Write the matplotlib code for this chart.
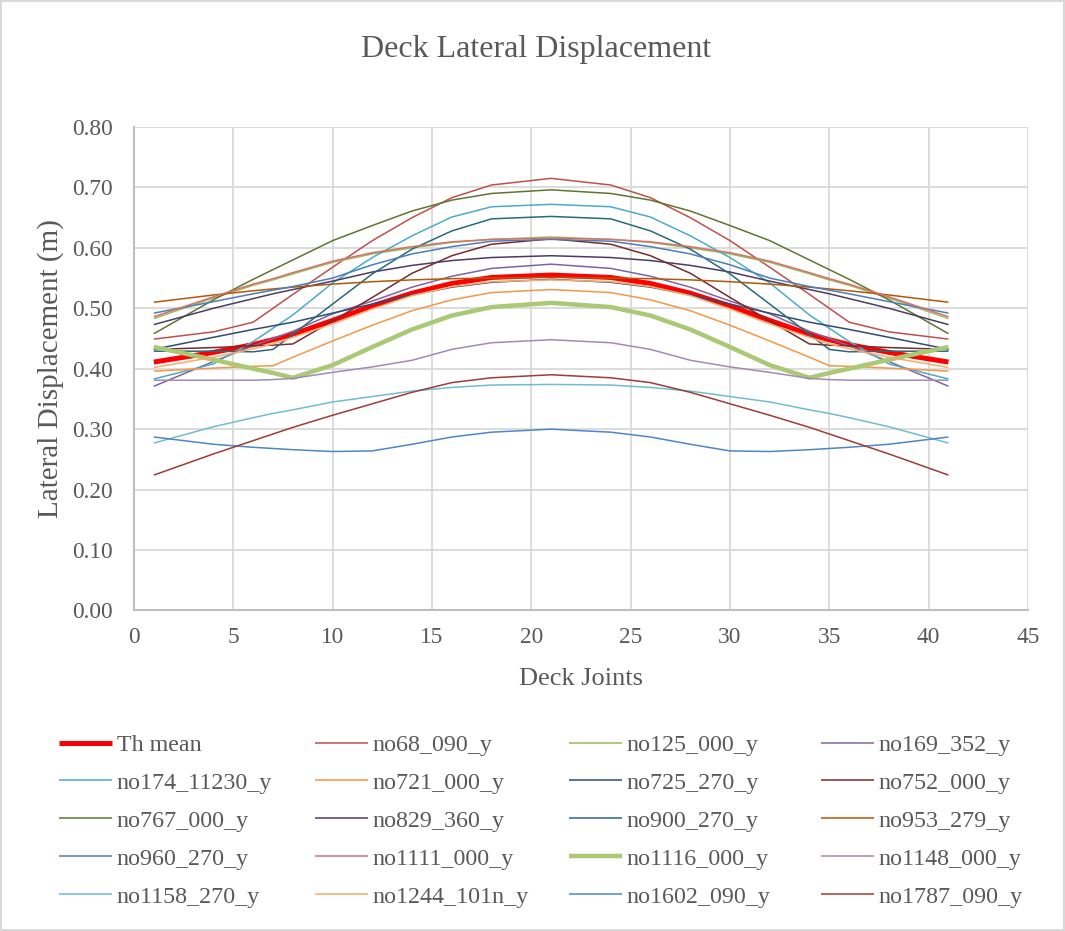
import matplotlib.pyplot as plt
from matplotlib.ticker import FormatStrFormatter

plt.rcParams['font.family'] = ['Liberation Serif', 'DejaVu Serif']

# Deck joints where the values were read
joints = [1, 4, 6, 7, 8, 10, 12, 14, 16, 18, 21, 24, 26, 28, 30, 32, 34, 35, 36, 38, 41]

th_mean = [0.411, 0.427, 0.440, 0.448, 0.457, 0.480, 0.504, 0.525, 0.541, 0.551, 0.555,
           0.551, 0.541, 0.525, 0.504, 0.480, 0.457, 0.448, 0.440, 0.427, 0.411]
no68 = [0.449, 0.461, 0.477, 0.500, 0.523, 0.568, 0.612, 0.650, 0.683, 0.704, 0.715,
        0.704, 0.683, 0.650, 0.612, 0.568, 0.523, 0.500, 0.477, 0.461, 0.449]
no125 = [0.483, 0.517, 0.538, 0.547, 0.557, 0.576, 0.590, 0.600, 0.609, 0.614, 0.618,
         0.614, 0.609, 0.600, 0.590, 0.576, 0.557, 0.547, 0.538, 0.517, 0.483]
no169 = [0.371, 0.412, 0.438, 0.450, 0.462, 0.491, 0.512, 0.535, 0.553, 0.566, 0.573,
         0.566, 0.553, 0.535, 0.512, 0.491, 0.462, 0.450, 0.438, 0.412, 0.371]
no174 = [0.383, 0.408, 0.445, 0.467, 0.489, 0.542, 0.584, 0.620, 0.651, 0.668, 0.672,
         0.668, 0.651, 0.620, 0.584, 0.542, 0.489, 0.467, 0.445, 0.408, 0.383]
no721 = [0.396, 0.401, 0.404, 0.405, 0.419, 0.446, 0.472, 0.496, 0.514, 0.526, 0.531,
         0.526, 0.514, 0.496, 0.472, 0.446, 0.419, 0.405, 0.404, 0.401, 0.396]
no725 = [0.432, 0.452, 0.465, 0.471, 0.477, 0.492, 0.507, 0.522, 0.535, 0.543, 0.548,
         0.543, 0.535, 0.522, 0.507, 0.492, 0.477, 0.471, 0.465, 0.452, 0.432]
no752 = [0.432, 0.435, 0.438, 0.439, 0.441, 0.479, 0.518, 0.558, 0.587, 0.606, 0.615,
         0.606, 0.587, 0.558, 0.518, 0.479, 0.441, 0.439, 0.438, 0.435, 0.432]
no767 = [0.458, 0.514, 0.548, 0.564, 0.580, 0.612, 0.637, 0.661, 0.679, 0.690, 0.696,
         0.690, 0.679, 0.661, 0.637, 0.612, 0.580, 0.564, 0.548, 0.514, 0.458]
no829 = [0.473, 0.500, 0.516, 0.524, 0.531, 0.545, 0.560, 0.571, 0.579, 0.584, 0.587,
         0.584, 0.579, 0.571, 0.560, 0.545, 0.531, 0.524, 0.516, 0.500, 0.473]
no900 = [0.429, 0.429, 0.428, 0.432, 0.457, 0.507, 0.557, 0.598, 0.628, 0.648, 0.652,
         0.648, 0.628, 0.598, 0.557, 0.507, 0.457, 0.432, 0.428, 0.429, 0.429]
no953 = [0.510, 0.522, 0.529, 0.532, 0.535, 0.540, 0.544, 0.547, 0.549, 0.550, 0.551,
         0.550, 0.549, 0.547, 0.544, 0.540, 0.535, 0.532, 0.529, 0.522, 0.510]
no960 = [0.492, 0.511, 0.524, 0.530, 0.536, 0.550, 0.572, 0.590, 0.602, 0.611, 0.614,
         0.611, 0.602, 0.590, 0.572, 0.550, 0.536, 0.530, 0.524, 0.511, 0.492]
no1111 = [0.486, 0.519, 0.540, 0.549, 0.559, 0.578, 0.592, 0.602, 0.610, 0.614, 0.616,
          0.614, 0.610, 0.602, 0.592, 0.578, 0.559, 0.549, 0.540, 0.519, 0.486]
no1116 = [0.436, 0.415, 0.400, 0.393, 0.385, 0.406, 0.436, 0.465, 0.488, 0.502, 0.509,
          0.502, 0.488, 0.465, 0.436, 0.406, 0.385, 0.393, 0.400, 0.415, 0.436]
no1148 = [0.381, 0.381, 0.381, 0.382, 0.384, 0.394, 0.403, 0.414, 0.432, 0.443, 0.448,
          0.443, 0.432, 0.414, 0.403, 0.394, 0.384, 0.382, 0.381, 0.381, 0.381]
no1158 = [0.277, 0.304, 0.319, 0.326, 0.332, 0.345, 0.354, 0.363, 0.369, 0.373, 0.374,
          0.373, 0.369, 0.363, 0.354, 0.345, 0.332, 0.326, 0.319, 0.304, 0.277]
no1244 = [0.402, 0.419, 0.433, 0.441, 0.452, 0.474, 0.499, 0.521, 0.536, 0.544, 0.547,
          0.544, 0.536, 0.521, 0.499, 0.474, 0.452, 0.441, 0.433, 0.419, 0.402]
no1602 = [0.287, 0.275, 0.270, 0.268, 0.266, 0.263, 0.264, 0.275, 0.287, 0.295, 0.300,
          0.295, 0.287, 0.275, 0.264, 0.263, 0.266, 0.268, 0.270, 0.275, 0.287]
no1787 = [0.224, 0.259, 0.281, 0.292, 0.303, 0.323, 0.342, 0.361, 0.377, 0.385, 0.390,
          0.385, 0.377, 0.361, 0.342, 0.323, 0.303, 0.292, 0.281, 0.259, 0.224]

# series in Excel order: (label, values, colour, width)
series = [
    ('Th mean', th_mean, '#FF0000', 3.6),
    ('no68_090_y', no68, '#C0504D', 1.1),
    ('no125_000_y', no125, '#9BBB59', 1.1),
    ('no169_352_y', no169, '#8064A2', 1.1),
    ('no174_11230_y', no174, '#4BACC6', 1.1),
    ('no721_000_y', no721, '#F79646', 1.1),
    ('no725_270_y', no725, '#2C4D75', 1.1),
    ('no752_000_y', no752, '#772C2A', 1.1),
    ('no767_000_y', no767, '#5F7530', 1.1),
    ('no829_360_y', no829, '#4D3B62', 1.1),
    ('no900_270_y', no900, '#276A7C', 1.1),
    ('no953_279_y', no953, '#B65708', 1.1),
    ('no960_270_y', no960, '#4A7EBB', 1.1),
    ('no1111_000_y', no1111, '#D7706B', 1.1),
    ('no1116_000_y', no1116, '#A9C974', 3.2),
    ('no1148_000_y', no1148, '#A08AB9', 1.1),
    ('no1158_270_y', no1158, '#6FBDD1', 1.1),
    ('no1244_101n_y', no1244, '#F9AB6B', 1.1),
    ('no1602_090_y', no1602, '#4F86C6', 1.1),
    ('no1787_090_y', no1787, '#9F3B38', 1.1),
]

txt = '#595959'
fig = plt.figure(figsize=(10.65, 9.31), dpi=100)
fig.patch.set_edgecolor('#D9D9D9')
fig.patch.set_linewidth(1.5)
ax = fig.add_axes([0.1258, 0.3443, 0.8394, 0.5193])

handles = []
for label, vals, col, lw in series:
    h, = ax.plot(joints, vals, color=col, lw=lw, label=label, solid_capstyle='butt')
    handles.append(h)

ax.set_xlim(0, 45)
ax.set_ylim(0, 0.8)
ax.set_xticks(range(0, 46, 5))
ax.set_yticks([i / 10 for i in range(9)])
ax.yaxis.set_major_formatter(FormatStrFormatter('%.2f'))
ax.grid(True, color='#D9D9D9', lw=1.3)
ax.set_axisbelow(True)
for s in ['top', 'right']:
    ax.spines[s].set_visible(False)
for s in ['left', 'bottom']:
    ax.spines[s].set_color('#BFBFBF')
    ax.spines[s].set_linewidth(1.5)
ax.tick_params(length=0, labelsize=16.8, colors=txt)
ax.tick_params(axis='y', pad=15)
ax.tick_params(axis='x', pad=12)

ax.set_xlabel('Deck Joints', fontsize=19, color=txt, labelpad=14)
ax.set_ylabel('Lateral Displacement (m)', fontsize=21, color=txt, labelpad=6)
fig.text(0.503, 0.947, 'Deck Lateral Displacement', ha='center', va='center',
         fontsize=23, color=txt)

# legend: one legend per column, Excel fills the rows first
col_x = [0.0554, 0.2958, 0.5343, 0.7709]
for c in range(4):
    idx = [r * 4 + c for r in range(5)]
    leg = fig.legend([handles[i] for i in idx], [series[i][0] for i in idx],
                     loc='upper left', bbox_to_anchor=(col_x[c], 0.2115),
                     frameon=False, fontsize=17.3, handlelength=2.2,
                     handletextpad=0.2, labelspacing=0.67,
                     borderpad=0, borderaxespad=0)
    for t in leg.get_texts():
        t.set_color(txt)

fig.savefig('out.png', dpi=100)
